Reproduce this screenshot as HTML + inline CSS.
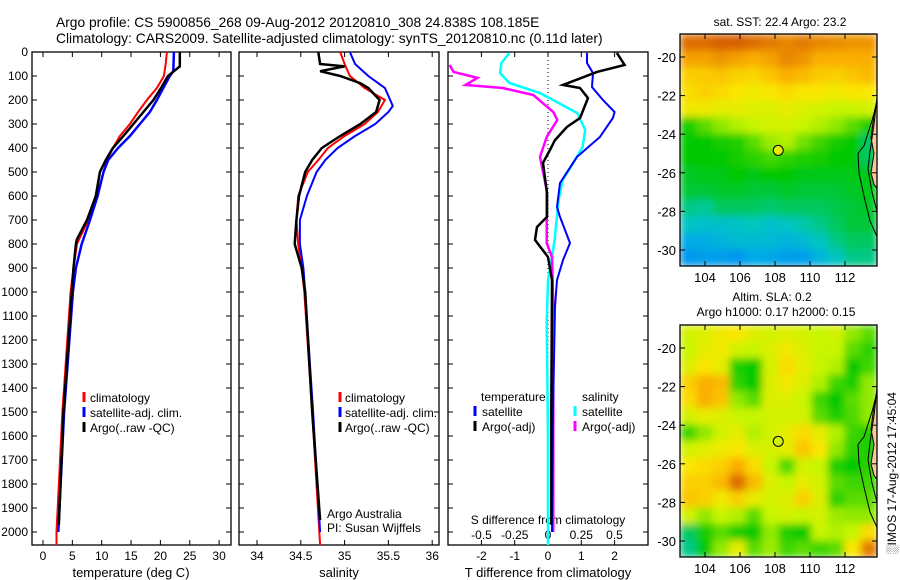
<!DOCTYPE html>
<html><head><meta charset="utf-8">
<style>
html,body{margin:0;padding:0;background:#fff;}
svg{display:block;font-family:"Liberation Sans",sans-serif;}
text{fill:#000;}
</style></head>
<body>
<svg id="fig" width="900" height="580" viewBox="0 0 900 580" xmlns="http://www.w3.org/2000/svg">
<defs>
<filter id="smooth" x="0" y="0" width="1" height="1"><feGaussianBlur stdDeviation="4" edgeMode="duplicate"/></filter>
</defs>
<rect x="0" y="0" width="900" height="580" fill="#fff"/>
<text x="56" y="27" font-size="13.8">Argo profile: CS 5900856_268 09-Aug-2012 20120810_308 24.838S 108.185E</text>
<text x="56" y="43" font-size="13.8">Climatology: CARS2009. Satellite-adjusted climatology: synTS_20120810.nc (0.11d later)</text>
<g id="root"></g>
</svg>
<script>
// ---------- data ----------
const tDepthClim = [0,50,100,150,200,250,300,350,400,450,500,600,700,800,900,1000,1500,2000,2054];
const tempClim   = [21.1,20.9,20.6,19.4,17.7,16.2,14.8,13.1,11.9,10.9,10.3,9.2,7.7,5.8,5.2,4.7,3.3,2.3,2.3];
const tDepthSat  = [0,80,100,150,200,250,300,350,400,450,500,600,700,800,900,1000,1500,2000];
const tempSat    = [22.3,22.2,21.6,20.5,19.4,18.2,16.5,14.8,12.8,11.1,10.3,9.3,8.0,6.6,5.6,5.1,3.6,2.6];
const tDepthArgo = [0,60,80,100,150,200,250,300,350,400,450,500,600,700,780,800,900,1000,1500,1970];
const tempArgo   = [23.3,23.3,22.3,21.3,20.1,18.8,17.1,15.4,13.7,11.9,10.7,9.7,9.0,7.5,5.8,5.6,5.2,4.9,3.5,2.7];

const sDepthClim = [0,50,100,150,200,250,300,350,400,450,500,600,700,800,900,1000,1500,2054];
const salClim    = [34.95,35.0,35.06,35.23,35.46,35.38,35.23,35.0,34.81,34.7,34.58,34.47,34.45,34.47,34.51,34.54,34.63,34.72];
const sDepthSat  = [0,50,100,150,200,225,250,300,350,400,450,500,600,700,800,900,1000,1500,2000];
const salSat     = [35.06,35.12,35.27,35.46,35.52,35.55,35.5,35.35,35.12,34.92,34.78,34.68,34.57,34.49,34.49,34.53,34.55,34.64,34.72];
const sDepthArgo = [0,50,60,80,100,130,150,200,250,300,350,400,450,500,600,700,800,900,1000,1500,1950];
const salArgo    = [34.7,34.72,35.0,34.72,34.95,35.18,35.27,35.4,35.36,35.18,34.95,34.74,34.63,34.55,34.48,34.45,34.43,34.51,34.55,34.63,34.72];

const dDepthTsat = [4,46,88,146,200,250,275,354,437,546,646,687,796,867,950,1062,1500,2000];
const dTsat      = [1.17,1.17,1.35,1.32,1.65,2.0,1.95,1.56,0.87,0.36,0.27,0.36,0.66,0.45,0.27,0.21,0.15,0.12];
const dDepthTargo= [4,54,83,137,150,192,275,312,367,408,462,587,687,729,783,854,950,1500,1970];
const dTargo     = [2.07,2.3,1.47,0.45,0.96,1.2,0.96,0.57,0.21,0.06,-0.15,-0.03,-0.03,-0.33,-0.39,0.0,0.12,0.1,0.1];
const dDepthSsat = [4,46,88,129,171,254,325,396,462,533,617,783,854,950,1129,1600,2054];
const dSsat      = [-0.29,-0.35,-0.36,-0.29,-0.06,0.22,0.28,0.26,0.19,0.11,0.08,0.05,0.03,0.0,-0.01,0.0,0.0];
const dDepthSargo= [54,83,108,137,150,179,250,283,354,437,575,729,796,854,1062,1500,2000];
const dSargo     = [-0.74,-0.71,-0.53,-0.62,-0.34,-0.11,0.04,0.07,-0.01,-0.06,-0.01,-0.01,-0.01,0.03,0.04,0.04,0.04];

const depthTicks = [0,100,200,300,400,500,600,700,800,900,1000,1100,1200,1300,1400,1500,1600,1700,1800,1900,2000];
const tempTicks = [0,5,10,15,20,25,30];
const salTicks = [34,34.5,35,35.5,36];
const salTickLabels = ["34","34.5","35","35.5","36"];
const dTTicks = [-2,-1,0,1,2];
const dSTicks = [-0.5,-0.25,0,0.25,0.5];
const dSTickLabels = ["-0.5","-0.25","0","0.25","0.5"];
const lonTicks = [104,106,108,110,112];
const latTicks = [-20,-22,-24,-26,-28,-30];
const argoLon = 108.185, argoLat = -24.838;

const sstRows = [
[0.9,0.9,0.92,0.92,0.9,0.88,0.86,0.88,0.86,0.85,0.84,0.84],
[0.82,0.82,0.84,0.82,0.8,0.82,0.86,0.84,0.8,0.8,0.8,0.8],
[0.74,0.75,0.76,0.74,0.73,0.76,0.8,0.78,0.75,0.74,0.76,0.78],
[0.72,0.74,0.72,0.7,0.68,0.7,0.72,0.7,0.7,0.68,0.7,0.7],
[0.68,0.68,0.66,0.66,0.64,0.64,0.66,0.64,0.62,0.6,0.6,0.62],
[0.38,0.5,0.55,0.58,0.6,0.62,0.62,0.6,0.58,0.55,0.5,0.4],
[0.36,0.36,0.38,0.4,0.5,0.56,0.58,0.52,0.45,0.38,0.36,0.3],
[0.35,0.35,0.36,0.38,0.42,0.46,0.42,0.4,0.38,0.36,0.35,0.3],
[0.33,0.34,0.34,0.35,0.34,0.36,0.35,0.34,0.34,0.34,0.34,0.34],
[0.32,0.32,0.33,0.33,0.32,0.32,0.33,0.32,0.32,0.32,0.33,0.34],
[0.28,0.27,0.3,0.3,0.3,0.29,0.3,0.3,0.3,0.31,0.32,0.33],
[0.24,0.22,0.22,0.23,0.25,0.22,0.24,0.26,0.28,0.3,0.32,0.32],
[0.15,0.16,0.18,0.2,0.2,0.2,0.18,0.2,0.24,0.28,0.3,0.3],
[0.1,0.12,0.12,0.1,0.15,0.14,0.12,0.12,0.18,0.24,0.28,0.28]];
const slaRows = [
[0.62,0.64,0.68,0.7,0.64,0.62,0.64,0.62,0.6,0.62,0.55,0.5],
[0.6,0.66,0.68,0.62,0.6,0.64,0.68,0.64,0.6,0.6,0.5,0.42],
[0.64,0.7,0.66,0.4,0.36,0.62,0.72,0.66,0.6,0.58,0.36,0.45],
[0.74,0.8,0.78,0.42,0.36,0.64,0.68,0.64,0.58,0.45,0.4,0.55],
[0.72,0.8,0.76,0.55,0.5,0.64,0.64,0.6,0.45,0.35,0.5,0.55],
[0.62,0.66,0.64,0.6,0.6,0.62,0.62,0.62,0.5,0.4,0.48,0.55],
[0.45,0.55,0.62,0.66,0.58,0.62,0.66,0.72,0.66,0.58,0.45,0.4],
[0.62,0.65,0.68,0.7,0.64,0.62,0.66,0.76,0.7,0.55,0.42,0.4],
[0.7,0.72,0.74,0.8,0.72,0.6,0.48,0.62,0.6,0.4,0.36,0.42],
[0.74,0.74,0.78,0.9,0.78,0.64,0.6,0.66,0.62,0.5,0.45,0.45],
[0.76,0.74,0.68,0.74,0.66,0.62,0.64,0.74,0.64,0.42,0.5,0.5],
[0.62,0.55,0.6,0.58,0.5,0.6,0.62,0.6,0.62,0.56,0.55,0.55],
[0.3,0.38,0.5,0.38,0.36,0.55,0.4,0.36,0.6,0.58,0.6,0.72],
[0.28,0.36,0.55,0.66,0.5,0.56,0.45,0.5,0.45,0.5,0.7,0.88]];

// ---------- helpers ----------
const NS = "http://www.w3.org/2000/svg";
const root = document.getElementById('root');
function mk(tag, attrs, parent){
  const e = document.createElementNS(NS, tag);
  for (const k in attrs) e.setAttribute(k, attrs[k]);
  (parent||root).appendChild(e);
  return e;
}
function txt(x,y,s,size,anchor,parent){
  const t = mk('text',{x:x,y:y,'font-size':size||12,'text-anchor':anchor||'start'},parent);
  t.textContent = s;
  return t;
}
const TOP = 52, BOT = 545;
function yDepth(d){ return TOP + 0.24*d; }
function xTemp(v){ return 43 + 5.87*v; }
function xSal(v){ return 257 + 87.6*(v-34); }
function xDT(v){ return 548 + 33.3*v; }
function xDS(v){ return 548 + 133*v; }

function line(depths, vals, xf, color, w, name, clip){
  const pts = depths.map((d,i)=> xf(vals[i]).toFixed(1)+','+yDepth(d).toFixed(1)).join(' ');
  const p = mk('polyline',{points:pts,fill:'none',stroke:color,'stroke-width':w,'stroke-linejoin':'miter','clip-path':clip});
  
  
  return p;
}
function box(x0,x1,name){
  const r = mk('rect',{x:x0,y:TOP,width:x1-x0,height:BOT-TOP,fill:'none',stroke:'#000','stroke-width':1.3});
  
  
  const c = mk('clipPath',{id:name+'-clip'});
  mk('rect',{x:x0,y:TOP,width:x1-x0,height:BOT-TOP},c);
  return 'url(#'+name+'-clip)';
}
function depthTickMarks(x0,x1){
  depthTicks.forEach(d=>{
    const y=yDepth(d);
    mk('line',{x1:x0,y1:y,x2:x0+5,y2:y,stroke:'#000'});
    mk('line',{x1:x1-5,y1:y,x2:x1,y2:y,stroke:'#000'});
  });
}
function xTickMarks(ticks,xf){
  ticks.forEach(v=>{
    const x=xf(v);
    mk('line',{x1:x,y1:BOT,x2:x,y2:BOT-5,stroke:'#000'});
    mk('line',{x1:x,y1:TOP,x2:x,y2:TOP+5,stroke:'#000'});
  });
}
function legendMark(x,y,color){
  mk('line',{x1:x,y1:y-10,x2:x,y2:y,stroke:color,'stroke-width':3});
}

// ---------- panel 1 ----------
const c1 = box(32,231,'temperature-axes');
depthTickMarks(32,231);
xTickMarks(tempTicks,xTemp);
depthTicks.forEach(d=>{
  const t=txt(28,yDepth(d)+4,String(d),12,'end');
  
  
});
tempTicks.forEach(v=>{
  const t=txt(xTemp(v),560,String(v),12,'middle');
  
  
});
{const t=txt(131,577,'temperature (deg C)',13,'middle');

}
line(tDepthClim,tempClim,xTemp,'#f00',2,'temp-climatology-line',c1);
line(tDepthSat,tempSat,xTemp,'#00f',2.5,'temp-satellite-line',c1);
line(tDepthArgo,tempArgo,xTemp,'#000',2.5,'temp-argo-line',c1);
[['climatology','#f00'],['satellite-adj. clim.','#00f'],['Argo(..raw -QC)','#000']].forEach((e,i)=>{
  const y=402+i*15;
  legendMark(84,y,e[1]);
  const t=txt(90,y,e[0],12);
  
  
});

// ---------- panel 2 ----------
const c2 = box(239,439,'salinity-axes');
depthTickMarks(239,439);
xTickMarks(salTicks,xSal);
salTicks.forEach((v,i)=>{
  const t=txt(xSal(v),560,salTickLabels[i],12,'middle');
  
  
});
{const t=txt(339,577,'salinity',13,'middle');

}
line(sDepthClim,salClim,xSal,'#f00',2,'sal-climatology-line',c2);
line(sDepthSat,salSat,xSal,'#00f',2,'sal-satellite-line',c2);
line(sDepthArgo,salArgo,xSal,'#000',2.5,'sal-argo-line',c2);
[['climatology','#f00'],['satellite-adj. clim.','#00f'],['Argo(..raw -QC)','#000']].forEach((e,i)=>{
  const y=402+i*15;
  legendMark(340,y,e[1]);
  const t=txt(345,y,e[0],12);
  
  
});
{const t=txt(327,518,'Argo Australia',12);


const t2=txt(327,532,'PI: Susan Wijffels',12);

}

// ---------- panel 3 ----------
const c3 = box(448,648,'difference-axes');
depthTickMarks(448,648);
xTickMarks(dTTicks,xDT);
mk('line',{x1:548,y1:TOP,x2:548,y2:BOT,stroke:'#000','stroke-dasharray':'1,3'});
dTTicks.forEach(v=>{
  const t=txt(xDT(v),560,String(v),12,'middle');
  
  
});
dSTicks.forEach((v,i)=>{
  const t=txt(xDS(v),539,dSTickLabels[i],12,'middle');
  
  
});
{const t=txt(548,524,'S difference from climatology',12,'middle');


const t2=txt(548,577,'T difference from climatology',13,'middle');

}
line(dDepthSsat,dSsat,xDS,'#0ff',2.5,'s-diff-satellite-line',c3);
line(dDepthSargo,dSargo,xDS,'#f0f',2.5,'s-diff-argo-line',c3);
line(dDepthTsat,dTsat,xDT,'#00f',2,'t-diff-satellite-line',c3);
line(dDepthTargo,dTargo,xDT,'#000',2.5,'t-diff-argo-line',c3);
{
  const l=[[481,401,'temperature',null],[482,416,'satellite','#00f'],[482,431,'Argo(-adj)','#000'],
           [582,401,'salinity',null],[582,416,'satellite','#0ff'],[582,431,'Argo(-adj)','#f0f']];
  l.forEach(e=>{
    if(e[3]) legendMark(e[0]-7,e[1],e[3]);
    const t=txt(e[0],e[1],e[2],12);
    
    
  });
}

// ---------- maps ----------
const MX0=680, MX1=877;
function lonX(lon){ return 705 + 17.5*(lon-104); }
function latY(lat,y0){ return y0 + (-20-lat)*19.3; }
function cmap(v){
  const stops=[[0,[0,110,255]],[0.15,[0,170,230]],[0.25,[0,200,190]],[0.35,[0,200,0]],[0.5,[90,220,0]],[0.6,[200,245,0]],[0.7,[250,230,0]],[0.8,[250,175,0]],[0.92,[215,95,0]],[1,[190,60,0]]];
  for(let i=1;i<stops.length;i++){
    if(v<=stops[i][0]){
      const a=stops[i-1],b=stops[i],f=(v-a[0])/(b[0]-a[0]);
      const c=a[1].map((q,j)=>Math.round(q+(b[1][j]-q)*f));
      return 'rgb('+c.join(',')+')';
    }
  }
  return 'rgb(190,60,0)';
}
function drawMap(rows, top, name){
  const bot = top+232;
  const g = mk('g',{});
  
  
  const cp = mk('clipPath',{id:name+'-clip'});
  mk('rect',{x:MX0,y:top,width:MX1-MX0,height:bot-top},cp);
  const outer = mk('g',{'clip-path':'url(#'+name+'-clip)'},g);
  const cells = mk('g',{filter:'url(#smooth)'},outer);
  const cw=(MX1-MX0)/rows[0].length, ch=(bot-top)/rows.length;
  rows.forEach((r,i)=>r.forEach((v,j)=>{
    const c=mk('rect',{x:(MX0+j*cw).toFixed(2),y:(top+i*ch).toFixed(2),width:(cw+0.6).toFixed(2),height:(ch+0.6).toFixed(2),fill:cmap(v)},cells);
    
    
  }));
  const y20 = top+23;
  const land=mk('polygon',{points:[[877,latY(-22.2,y20)],[874,latY(-23,y20)],[871,latY(-24.2,y20)],[874,latY(-25,y20)],[871,latY(-26,y20)],[874,latY(-26.6,y20)],[877,latY(-26.8,y20)]].map(p=>p.join(',')).join(' '),fill:'#f8c898',stroke:'#000','stroke-width':1},g);
  
  
  mk('polyline',{points:[[877,latY(-22.3,y20)],[872,latY(-23.3,y20)],[864,latY(-24.6,y20)],[858,latY(-25,y20)],[859,latY(-26,y20)],[864,latY(-27.2,y20)],[870,latY(-28.5,y20)],[877,latY(-29.3,y20)]].map(p=>p.join(',')).join(' '),fill:'none',stroke:'#000','stroke-width':1},g);
  mk('polyline',{points:[[877,latY(-22.1,y20)],[874,latY(-23.5,y20)],[870,latY(-24.9,y20)],[868,latY(-25.8,y20)],[872,latY(-27,y20)],[877,latY(-28,y20)]].map(p=>p.join(',')).join(' '),fill:'none',stroke:'#000','stroke-width':1},g);
  mk('rect',{x:MX0,y:top,width:MX1-MX0,height:bot-top,fill:'none',stroke:'#000','stroke-width':1.3},g);
  lonTicks.forEach(l=>{
    const x=lonX(l);
    mk('line',{x1:x,y1:bot,x2:x,y2:bot-5,stroke:'#000'},g);
    mk('line',{x1:x,y1:top,x2:x,y2:top+5,stroke:'#000'},g);
    const t=txt(x,bot+16,String(l),13,'middle',g);
    
    
  });
  latTicks.forEach(l=>{
    const y=latY(l,y20);
    mk('line',{x1:MX0,y1:y,x2:MX0+5,y2:y,stroke:'#000'},g);
    mk('line',{x1:MX1-5,y1:y,x2:MX1,y2:y,stroke:'#000'},g);
    const t=txt(676,y+5,String(l),13,'end',g);
    
    
  });
  const m=mk('circle',{cx:lonX(argoLon),cy:latY(argoLat,y20),r:5,fill:name==='sst-map'?cmap(0.66):cmap(0.62),stroke:'#000','stroke-width':1},g);
  
  
}
drawMap(sstRows,34,'sst-map');
drawMap(slaRows,325,'sla-map');
{const t=txt(780,26,'sat. SST: 22.4 Argo: 23.2',12,'middle');


const t2=txt(772,301,'Altim. SLA: 0.2',12,'middle');


const t3=txt(776,316,'Argo h1000: 0.17 h2000: 0.15',12,'middle');


const t4=txt(0,0,'\u2591IMOS 17-Aug-2012 17:45:04',12,'middle');
t4.setAttribute('transform','translate(896,473) rotate(-90)');

}
</script>
</body></html>
